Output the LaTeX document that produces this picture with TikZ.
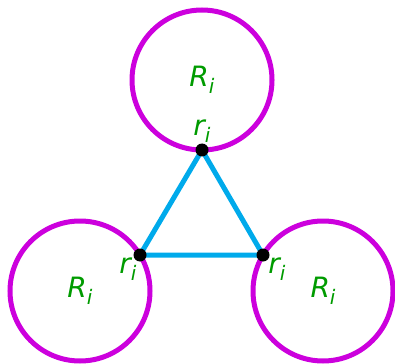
\documentclass[tikz,border=0pt]{standalone}
\usepackage{fontspec}
\setmainfont{DejaVu Sans}
\usepackage{tikz}
\usetikzlibrary{positioning}
\definecolor{RingColor}{RGB}{204,0,221}
\definecolor{EdgeColor}{RGB}{0,170,235}
\definecolor{LabelColor}{RGB}{0,155,0}
\newcommand{\symb}[1]{{\itshape #1\raisebox{-0.45ex}{\fontsize{20}{20}\selectfont i}}}

\begin{document}
\begin{tikzpicture}[
    x=1pt, y=-1pt,
    ring/.style={circle, draw=RingColor, line width=5pt, minimum size=140pt, inner sep=0pt},
    vertex/.style={circle, fill=black, minimum size=13pt, inner sep=0pt},
    edge/.style={draw=EdgeColor, line width=5pt, line join=round},
    lbl/.style={text=LabelColor, font=\fontsize{28}{32}\selectfont, inner sep=0pt},
]
\useasboundingbox (0,0) rectangle (395,363);

% big circles
\node[ring] (top) at (202,80) {};
\node[ring] (left) at (80,291) {};
\node[ring] (right) at (323,291) {};

% contact points
\coordinate (vt) at (202,150);
\coordinate (vl) at (140,255);
\coordinate (vr) at (263,255);

% triangle
\draw[edge] (vt) -- (vl) -- (vr) -- cycle;

\node[vertex] (dt) at (vt) {};
\node[vertex] (dl) at (vl) {};
\node[vertex] (dr) at (vr) {};

% labels
\node[lbl] (Rt) at (202,80) {\symb{R}};
\node[lbl] (Rl) at (80,291) {\symb{R}};
\node[lbl] (Rr) at (323,291) {\symb{R}};
\node[lbl] (rt) at (202,131) {\symb{r}};
\node[lbl] (rl) at (128,269) {\symb{r}};
\node[lbl] (rr) at (277,269) {\symb{r}};
\end{tikzpicture}
\end{document}
